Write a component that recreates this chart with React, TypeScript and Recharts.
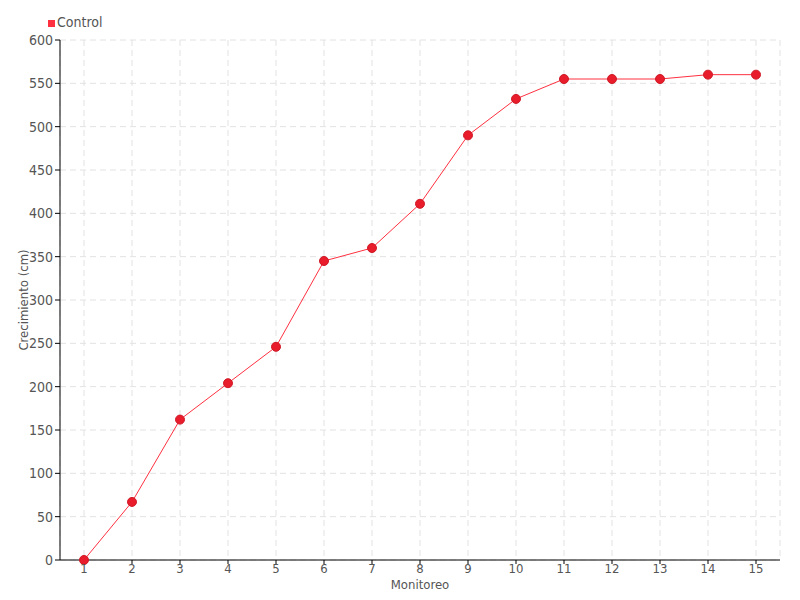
import React from 'react';
import { LineChart, Line, XAxis, YAxis, CartesianGrid, Legend } from 'recharts';

const categories = ['1','2','3','4','5','6','7','8','9','10','11','12','13','14','15'];
const controlValues = [0, 67, 162, 204, 246, 345, 360, 411, 490, 532, 555, 555, 555, 560, 560];
const yTicks = [0, 50, 100, 150, 200, 250, 300, 350, 400, 450, 500, 550, 600];

const data = categories.map((c, i) => ({ name: c, Control: controlValues[i] }));

const FONT = "'Liberation Sans Narrow', 'DejaVu Sans Condensed', sans-serif";
const TEXT = '#555555';

const YLabel = (props: any) => {
  const vb = props.viewBox || {};
  const x = (vb.x ?? 0) + 28;
  const y = (vb.y ?? 0) + (vb.height ?? 0) / 2;
  return (
    <text x={x} y={y} transform={`rotate(-90 ${x} ${y})`} textAnchor="middle" fill={TEXT} fontSize={13} fontFamily={FONT}>
      Crecimiento (cm)
    </text>
  );
};

export default function App() {
  return (
    <div style={{ position: 'absolute', left: 0, top: 0, width: 800, height: 600, background: '#fff' }}>
      <LineChart width={800} height={600} data={data} margin={{ top: 24, right: 20, bottom: 10, left: 0 }}>
        <CartesianGrid stroke="#e2e2e2" strokeDasharray="6 4" />
        <XAxis
          dataKey="name"
          padding={{ left: 24, right: 24 }}
          height={30}
          stroke="#000"
          tickLine={{ stroke: '#000' }}
          tickSize={4}
          tickMargin={0}
          tick={{ fill: TEXT, fontSize: 13, fontFamily: FONT }}
          label={{ value: 'Monitoreo', position: 'insideBottom', offset: 1, fill: TEXT, fontSize: 13, fontFamily: FONT }}
        />
        <YAxis
          width={60}
          domain={[0, 600]}
          ticks={yTicks}
          interval={0}
          stroke="#000"
          tickSize={5}
          tick={{ fill: TEXT, fontSize: 14, fontFamily: FONT }}
          label={<YLabel />}
        />
        <Legend
          verticalAlign="top"
          align="left"
          iconType="square"
          iconSize={7}
          wrapperStyle={{ top: 14, left: 48, fontFamily: FONT, fontSize: 14 }}
          formatter={(v: string) => <span style={{ color: TEXT, marginLeft: -2 }}>{v}</span>}
        />
        <Line
          type="linear"
          dataKey="Control"
          stroke="#ff3040"
          strokeWidth={1}
          dot={{ r: 4.5, fill: '#e81c2a', stroke: '#d01a28', strokeWidth: 1 }}
          isAnimationActive={false}
        />
      </LineChart>
    </div>
  );
}
